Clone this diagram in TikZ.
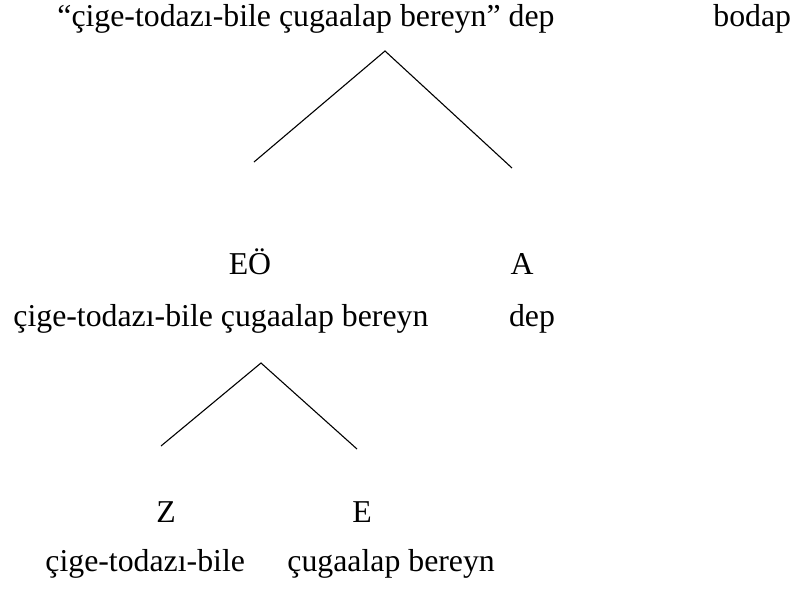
\documentclass[tikz,border=0pt]{standalone}
\usepackage{fontspec}
\setmainfont{Liberation Serif}
\usetikzlibrary{positioning}

\begin{document}
\begin{tikzpicture}[
    x=0.5pt, y=-0.5pt,
    word/.style={anchor=base west, inner sep=0pt, font=\fontsize{15.9}{19}\selectfont},
    cat/.style={anchor=base, inner sep=0pt, font=\fontsize{15.9}{19}\selectfont},
    branch/.style={line width=0.55pt},
]
    \useasboundingbox (0,0) rectangle (793,590);

    % Row 1: whole utterance
    \node[word] (utter) at (57,26) {“çige-todazı-bile çugaalap bereyn” dep};
    \node[word] (bodap) at (713,26) {bodap};
    \coordinate (topApex) at (385,51);
    \coordinate (topLeft) at (254,162);
    \coordinate (topRight) at (512,168);
    \draw[branch] (topLeft) -- (topApex) -- (topRight);

    % Row 2: EO and A
    \node[cat] (eo) at (250,274) {EÖ};
    \node[cat] (a) at (522,274) {A};
    \node[word] (eoText) at (13,326) {çige-todazı-bile çugaalap bereyn};
    \node[cat] (aText) at (532,326) {dep};
    \coordinate (lowApex) at (261,363);
    \coordinate (lowLeft) at (161,446);
    \coordinate (lowRight) at (357,449);
    \draw[branch] (lowLeft) -- (lowApex) -- (lowRight);

    % Row 3: Z and E
    \node[cat] (z) at (166,522) {Z};
    \node[cat] (e) at (362,522) {E};
    \node[word] (zText) at (45,571) {çige-todazı-bile};
    \node[word] (eText) at (287,571) {çugaalap bereyn};
\end{tikzpicture}
\end{document}
